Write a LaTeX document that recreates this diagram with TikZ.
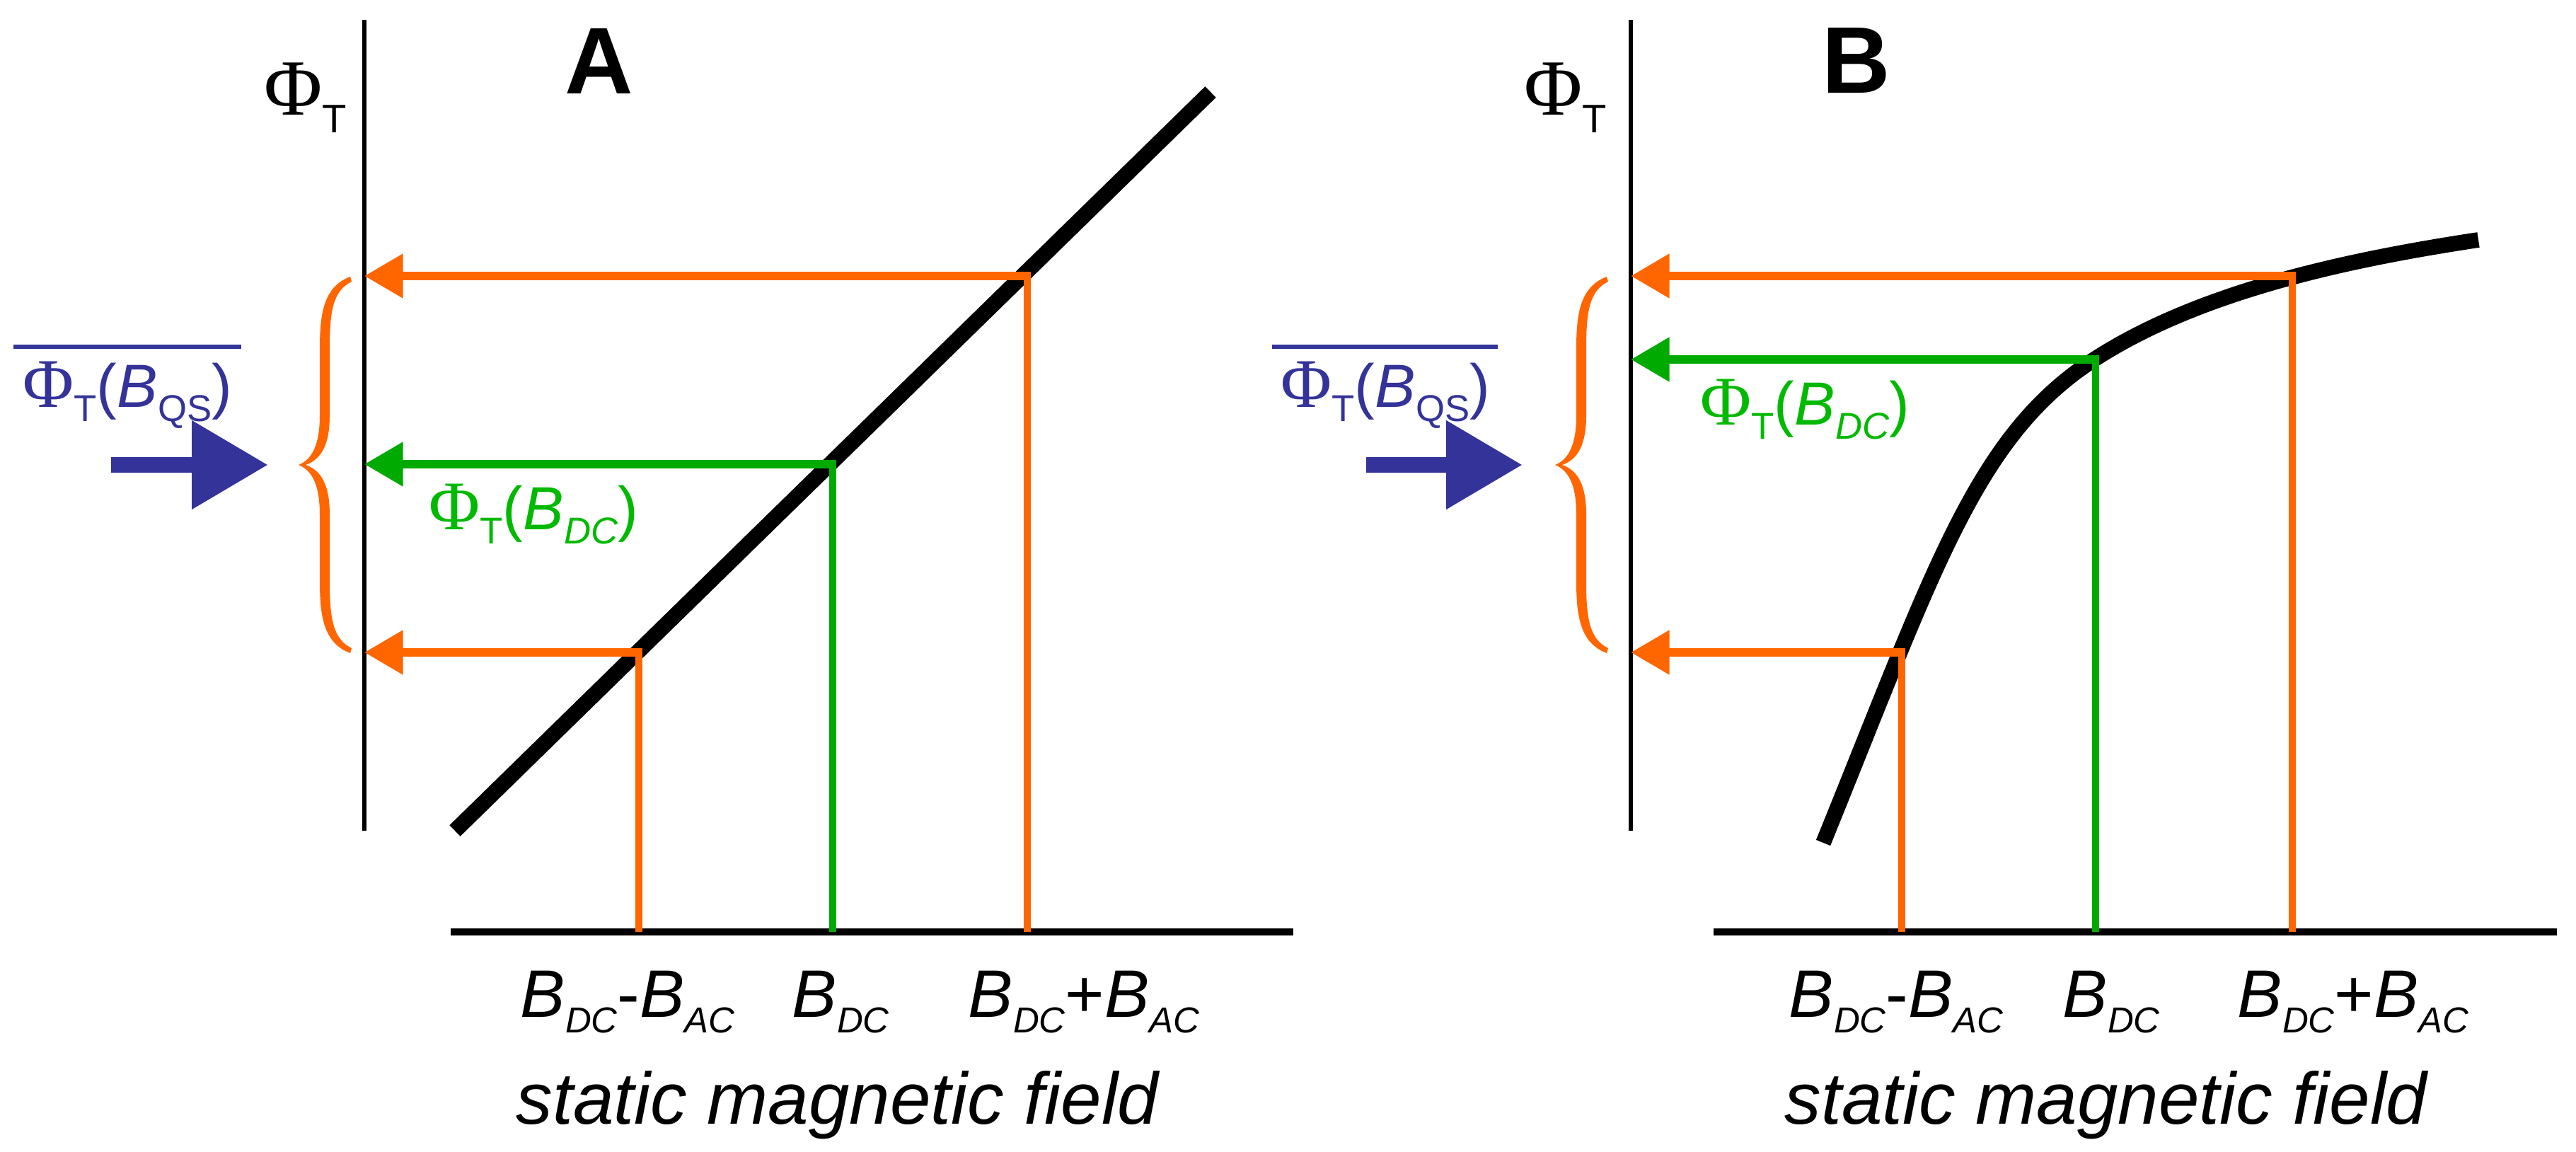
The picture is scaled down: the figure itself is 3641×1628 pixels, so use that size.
\documentclass[tikz,border=0pt]{standalone}
\usepackage{fontspec}
\setmainfont{Liberation Sans}
\newfontfamily\phifont{Liberation Serif}
\usetikzlibrary{arrows.meta}
\definecolor{myorange}{RGB}{255,102,0}
\definecolor{mygreen}{RGB}{0,170,0}
\definecolor{txtgreen}{RGB}{0,185,0}
\definecolor{myblue}{RGB}{51,51,153}
\newcommand{\fs}[1]{\fontsize{#1}{#1}\selectfont}
\newcommand{\axPhi}{{\fs{32}\phifont Φ}\raisebox{-7pt}{\fs{16}T}}
\newcommand{\lblPhi}[1]{{\fs{28}\phifont Φ}\raisebox{-5.5pt}{\fs{15}T}{\fs{24.5}(\textit{B}}\raisebox{-5.5pt}{\fs{15}#1}{\fs{24.5})}}
\newcommand{\Bsub}[1]{\textit{B}\raisebox{-6.5pt}{\fs{14.5}\itshape #1}}
\tikzset{
  axisline/.style={line width=1.7pt},
  xaxisline/.style={line width=2.8pt},
  curveline/.style={line width=6.2pt},
  proj/.style={line width=3.4pt, -{Triangle[length=15.5pt,width=17pt]}},
  vline/.style={line width=3pt},
  lbl/.style={inner sep=0pt, anchor=base west},
  bluearrow/.style={myblue, line width=6.5pt, -{Triangle[length=30.7pt,width=34pt]}},
  overbar/.style={myblue, line width=1.8pt},
  brace/.pic={
    \fill[myorange] (73,-266) .. controls (36,-252) and (30,-215) .. (30,-165) -- (30,-70)
      .. controls (30,-30) and (20,-8) .. (0,0)
      .. controls (20,8) and (30,30) .. (30,70) -- (30,165)
      .. controls (30,215) and (36,252) .. (73,266) -- (75,259)
      .. controls (48,246) and (44,215) .. (44,165) -- (44,70)
      .. controls (44,30) and (33,8) .. (10,0)
      .. controls (33,-8) and (44,-30) .. (44,-70) -- (44,-165)
      .. controls (44,-215) and (48,-246) .. (75,-259) -- cycle;
  }
}
\begin{document}
\begin{tikzpicture}[x=0.01cm,y=-0.01cm]
\fill[white] (0,0) rectangle (3641,1628);
\useasboundingbox (0,0) rectangle (3641,1628);

% ================= Panel A =================
\coordinate (yAtop) at (515,28);
\coordinate (yAbot) at (515,1174);
\coordinate (xAl) at (637,1317);
\coordinate (xAr) at (1828,1317);
\draw[axisline] (yAtop) -- (yAbot);
\draw[xaxisline] (xAl) -- (xAr);
\coordinate (lineAs) at (643,1174);
\coordinate (lineAe) at (1711,130);
\draw[curveline] (lineAs) -- (lineAe);

\coordinate (pAhi) at (1452,390);
\coordinate (pAmid) at (1177,656);
\coordinate (pAlo) at (903,922);
\coordinate (yAhi) at (515,390);
\coordinate (yAmid) at (515,656);
\coordinate (yAlo) at (515,922);
\coordinate (tAhi) at (1452,1317);
\coordinate (tAmid) at (1177,1317);
\coordinate (tAlo) at (903,1317);

\draw[vline, myorange] (tAhi) -- (pAhi);
\draw[vline, mygreen] (tAmid) -- (pAmid);
\draw[vline, myorange] (tAlo) -- (pAlo);
\draw[proj, myorange] ([xshift=0.05cm]pAhi) -- (yAhi);
\draw[proj, mygreen] ([xshift=0.05cm]pAmid) -- (yAmid);
\draw[proj, myorange] ([xshift=0.05cm]pAlo) -- (yAlo);

\pic (braceA) at (422,657) {brace};

\node[lbl] (phiA) at (373,163) {\axPhi};
\node[lbl] (titleA) at (798,133) {\fs{38}\bfseries A};
\node[lbl, myblue] (qsA) at (32,576) {\lblPhi{QS}};
\draw[overbar] ([shift={(-13,-86)}]qsA.base west) -- ([shift={(12,-86)}]qsA.base east);
\coordinate (baA) at (157,657);
\coordinate (btA) at (379,657);
\draw[bluearrow] (baA) -- (btA);
\node[lbl, txtgreen] (dcA) at (606,749) {\lblPhi{\itshape DC}};

\node[lbl] (tkA1) at (735,1437) {\fs{27}\Bsub{DC}-\Bsub{AC}};
\node[lbl] (tkA2) at (1119,1437) {\fs{27}\Bsub{DC}};
\node[lbl] (tkA3) at (1368,1437) {\fs{27}\Bsub{DC}+\Bsub{AC}};
\node[lbl] (xlabA) at (729,1588) {\fs{29.4}\itshape static magnetic field};

% ================= Panel B =================
\coordinate (yBtop) at (2305,28);
\coordinate (yBbot) at (2305,1174);
\coordinate (xBl) at (2422,1317);
\coordinate (xBr) at (3614,1317);
\draw[axisline] (yBtop) -- (yBbot);
\draw[xaxisline] (xBl) -- (xBr);
\coordinate (cBs) at (2577,1191);
\coordinate (cBm) at (2960,508);
\coordinate (cBe) at (3503,339);
\draw[curveline] (cBs) .. controls (2735,802) and (2792,617) .. (cBm)
  .. controls (3111,410) and (3325,366) .. (cBe);

\coordinate (pBhi) at (3240,390);
\coordinate (pBmid) at (2962,508);
\coordinate (pBlo) at (2688,922);
\coordinate (yBhi) at (2305,390);
\coordinate (yBmid) at (2305,508);
\coordinate (yBlo) at (2305,922);
\coordinate (tBhi) at (3240,1317);
\coordinate (tBmid) at (2962,1317);
\coordinate (tBlo) at (2688,1317);

\draw[vline, myorange] (tBhi) -- (pBhi);
\draw[vline, mygreen] (tBmid) -- (pBmid);
\draw[vline, myorange] (tBlo) -- (pBlo);
\draw[proj, myorange] ([xshift=0.05cm]pBhi) -- (yBhi);
\draw[proj, mygreen] ([xshift=0.05cm]pBmid) -- (yBmid);
\draw[proj, myorange] ([xshift=0.05cm]pBlo) -- (yBlo);

\pic (braceB) at (2198,657) {brace};

\node[lbl] (phiB) at (2154,163) {\axPhi};
\node[lbl] (titleB) at (2575,132) {\fs{38}\bfseries B};
\node[lbl, myblue] (qsB) at (1810,576) {\lblPhi{QS}};
\draw[overbar] ([shift={(-12,-86)}]qsB.base west) -- ([shift={(10,-86)}]qsB.base east);
\coordinate (baB) at (1931,657);
\coordinate (btB) at (2152,657);
\draw[bluearrow] (baB) -- (btB);
\node[lbl, txtgreen] (dcB) at (2403,601) {\lblPhi{\itshape DC}};

\node[lbl] (tkB1) at (2528,1437) {\fs{27}\Bsub{DC}-\Bsub{AC}};
\node[lbl] (tkB2) at (2915,1437) {\fs{27}\Bsub{DC}};
\node[lbl] (tkB3) at (3162,1437) {\fs{27}\Bsub{DC}+\Bsub{AC}};
\node[lbl] (xlabB) at (2522,1588) {\fs{29.4}\itshape static magnetic field};
\end{tikzpicture}
\end{document}
